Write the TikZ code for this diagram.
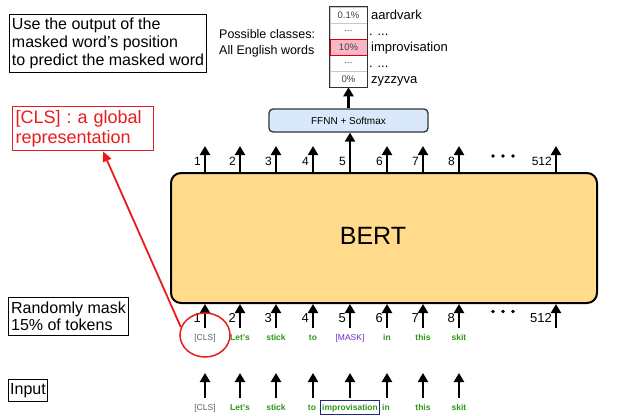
\documentclass[tikz,border=0pt]{standalone}
\usepackage{fontspec}
\setmainfont{Liberation Sans}
\usetikzlibrary{arrows.meta,calc,shapes.geometric}

\definecolor{bertfill}{RGB}{255,219,139}
\definecolor{ffnnfill}{RGB}{218,232,252}
\definecolor{tokgreen}{RGB}{46,150,22}
\definecolor{maskpurple}{RGB}{108,40,205}
\definecolor{clsgray}{RGB}{90,96,112}
\definecolor{frameblue}{RGB}{30,40,130}
\definecolor{pinkcell}{RGB}{248,182,200}
\definecolor{cellline}{RGB}{200,200,200}
\definecolor{noteRed}{RGB}{232,28,28}

\newcommand{\fsz}[2]{\fontsize{#1}{#2}\selectfont}

\begin{document}
\begin{tikzpicture}[x=1pt,y=-1pt,
  uparr/.style={-{Triangle[length=9pt,width=10pt]}, line width=2.2pt},
  note/.style={draw, line width=1.2pt, align=left, inner xsep=2.5pt},
  numtop/.style={anchor=east, inner sep=0pt, font=\fsz{12}{12}},
  numbot/.style={anchor=east, inner sep=0pt, font=\fsz{13}{13}},
  tok/.style={anchor=base, inner sep=0pt, font=\fsz{8.5}{9}\bfseries, text=tokgreen},
  cell/.style={minimum width=37pt, minimum height=16pt, inner sep=0pt,
               draw=cellline, line width=0.6pt, font=\fsz{9.5}{9.5}, text=black!75},
  word/.style={anchor=base west, inner sep=0pt, font=\fsz{13}{13}},
  dotmark/.style={fill=black, draw=none}
]
\useasboundingbox (0,0) rectangle (634,415);

% side notes
\node[note, inner ysep=3.5pt, font=\fsz{16}{18}] (notemask) at (108,43.5)
  {Use the output of the\\masked word's position\\to predict the masked word};
\node[note, draw=noteRed, text=noteRed, anchor=north west, text width=135pt,
      inner sep=3pt, inner ysep=3.5pt, font=\fsz{18}{20.5}] (redbox) at (12,106)
  {[CLS] : a global\\representation};
\node[note, inner ysep=4.5pt, font=\fsz{16}{17}] (noterand) at (68.5,316.5)
  {Randomly mask\\15\% of tokens};
\node[note, inner xsep=2pt, inner ysep=4pt, font=\fsz{16}{16}] (noteinput) at (28,390.5) {Input};

% output distribution over the vocabulary
\node[anchor=west, inner sep=0pt, align=left, font=\fsz{12.5}{16}] (classes) at (219,43)
  {Possible classes:\\All English words};
\node[cell] (c1) at (348.5,15) {0.1\%};
\node[cell] (c2) at (348.5,31) {...};
\node[cell] (c4) at (348.5,63) {...};
\node[cell] (c5) at (348.5,79) {0\%};
\node[cell, fill=pinkcell, draw=red!85!black, line width=1pt] (c3) at (348.5,47) {10\%};
\draw[line width=1pt, black!80] (c1.north west) rectangle (c5.south east);
\node[word] (w1) at (371,19.5) {aardvark};
\node[word] (w2) at (369,35) {. ...};
\node[word] (w3) at (371,51.5) {improvisation};
\node[word] (w4) at (369,67) {. ...};
\node[word] (w5) at (371,83.5) {zyzzyva};

% classifier head
\node[draw=black!80, line width=1.3pt, rounded corners=4pt, fill=ffnnfill,
      minimum width=159pt, minimum height=23pt, font=\fsz{10}{10}] (ffnn) at (348.5,120.5)
  {FFNN + Softmax};
\draw[uparr] (ffnn.north -| c5.south) -- (c5.south);

% encoder
\node[draw, line width=2pt, rounded corners=10pt, fill=bertfill,
      minimum width=426pt, minimum height=130pt] (bert) at (384,238) {};
\node[font=\fsz{25}{25}, inner sep=0pt] (bertlab) at (373,236) {BERT};

% output positions
\foreach \i/\x/\n in {1/205/1,2/240/2,3/276/3,4/313/4,5/350/5,6/387/6,7/423/7,8/459/8,9/556/512}{
  \coordinate (ot\i) at (\x,146);
  \node[numtop] (otl\i) at (\x-4,161) {\n};
  \coordinate (ib\i) at (\x,328);
  \draw[uparr] (ib\i) -- (ib\i |- bert.south);
  \node[numbot] (ibl\i) at (\x-4,318) {\n};
}
\foreach \i in {1,2,3,4,6,7,8,9}{
  \draw[uparr] (bert.north -| ot\i) -- (ot\i);
}
\draw[uparr] (bert.north -| ot5) -- (ffnn.south -| ot5);
\foreach \x in {493,503,513}{
  \fill[dotmark] (\x,156) circle (1.9pt);
  \fill[dotmark] (\x,311.5) circle (1.9pt);
}

% masked token sequence
\node[tok, text=clsgray, font=\fsz{8.5}{9}] (tk1) at (205,340) {[CLS]};
\node[tok] (tk2) at (240,340) {Let's};
\node[tok] (tk3) at (276,340) {stick};
\node[tok] (tk4) at (313,340) {to};
\node[tok, text=maskpurple, font=\fsz{8.5}{9}] (tk5) at (350,340) {[MASK]};
\node[tok] (tk6) at (387,340) {in};
\node[tok] (tk7) at (423,340) {this};
\node[tok] (tk8) at (459,340) {skit};

% highlight of the [CLS] token
\node[ellipse, draw=noteRed, line width=1.5pt, minimum width=50pt, minimum height=44pt] (circ) at (205,335) {};
\draw[noteRed, line width=1.8pt, -{Triangle[length=10pt,width=9pt]}] (circ.162) -- ([xshift=20pt]redbox.south);

% input sequence
\node[tok, text=clsgray, font=\fsz{8.5}{9}] (in1) at (205,410) {[CLS]};
\node[tok] (in2) at (240,410) {Let's};
\node[tok] (in3) at (276,410) {stick};
\node[tok] (in4) at (312,410) {to};
\node[tok, draw=frameblue, line width=0.8pt, inner xsep=2pt, inner ysep=3pt] (in5) at (350,410) {improvisation};
\node[tok] (in6) at (386,410) {in};
\node[tok] (in7) at (423,410) {this};
\node[tok] (in8) at (459,410) {skit};
\foreach \i/\x in {1/205,2/240,3/276,4/313,5/350,6/387,7/423,8/459}{
  \coordinate (ia\i) at (\x,398);
  \coordinate (iat\i) at (\x,373);
  \draw[uparr] (ia\i) -- (iat\i);
}
\end{tikzpicture}
\end{document}
